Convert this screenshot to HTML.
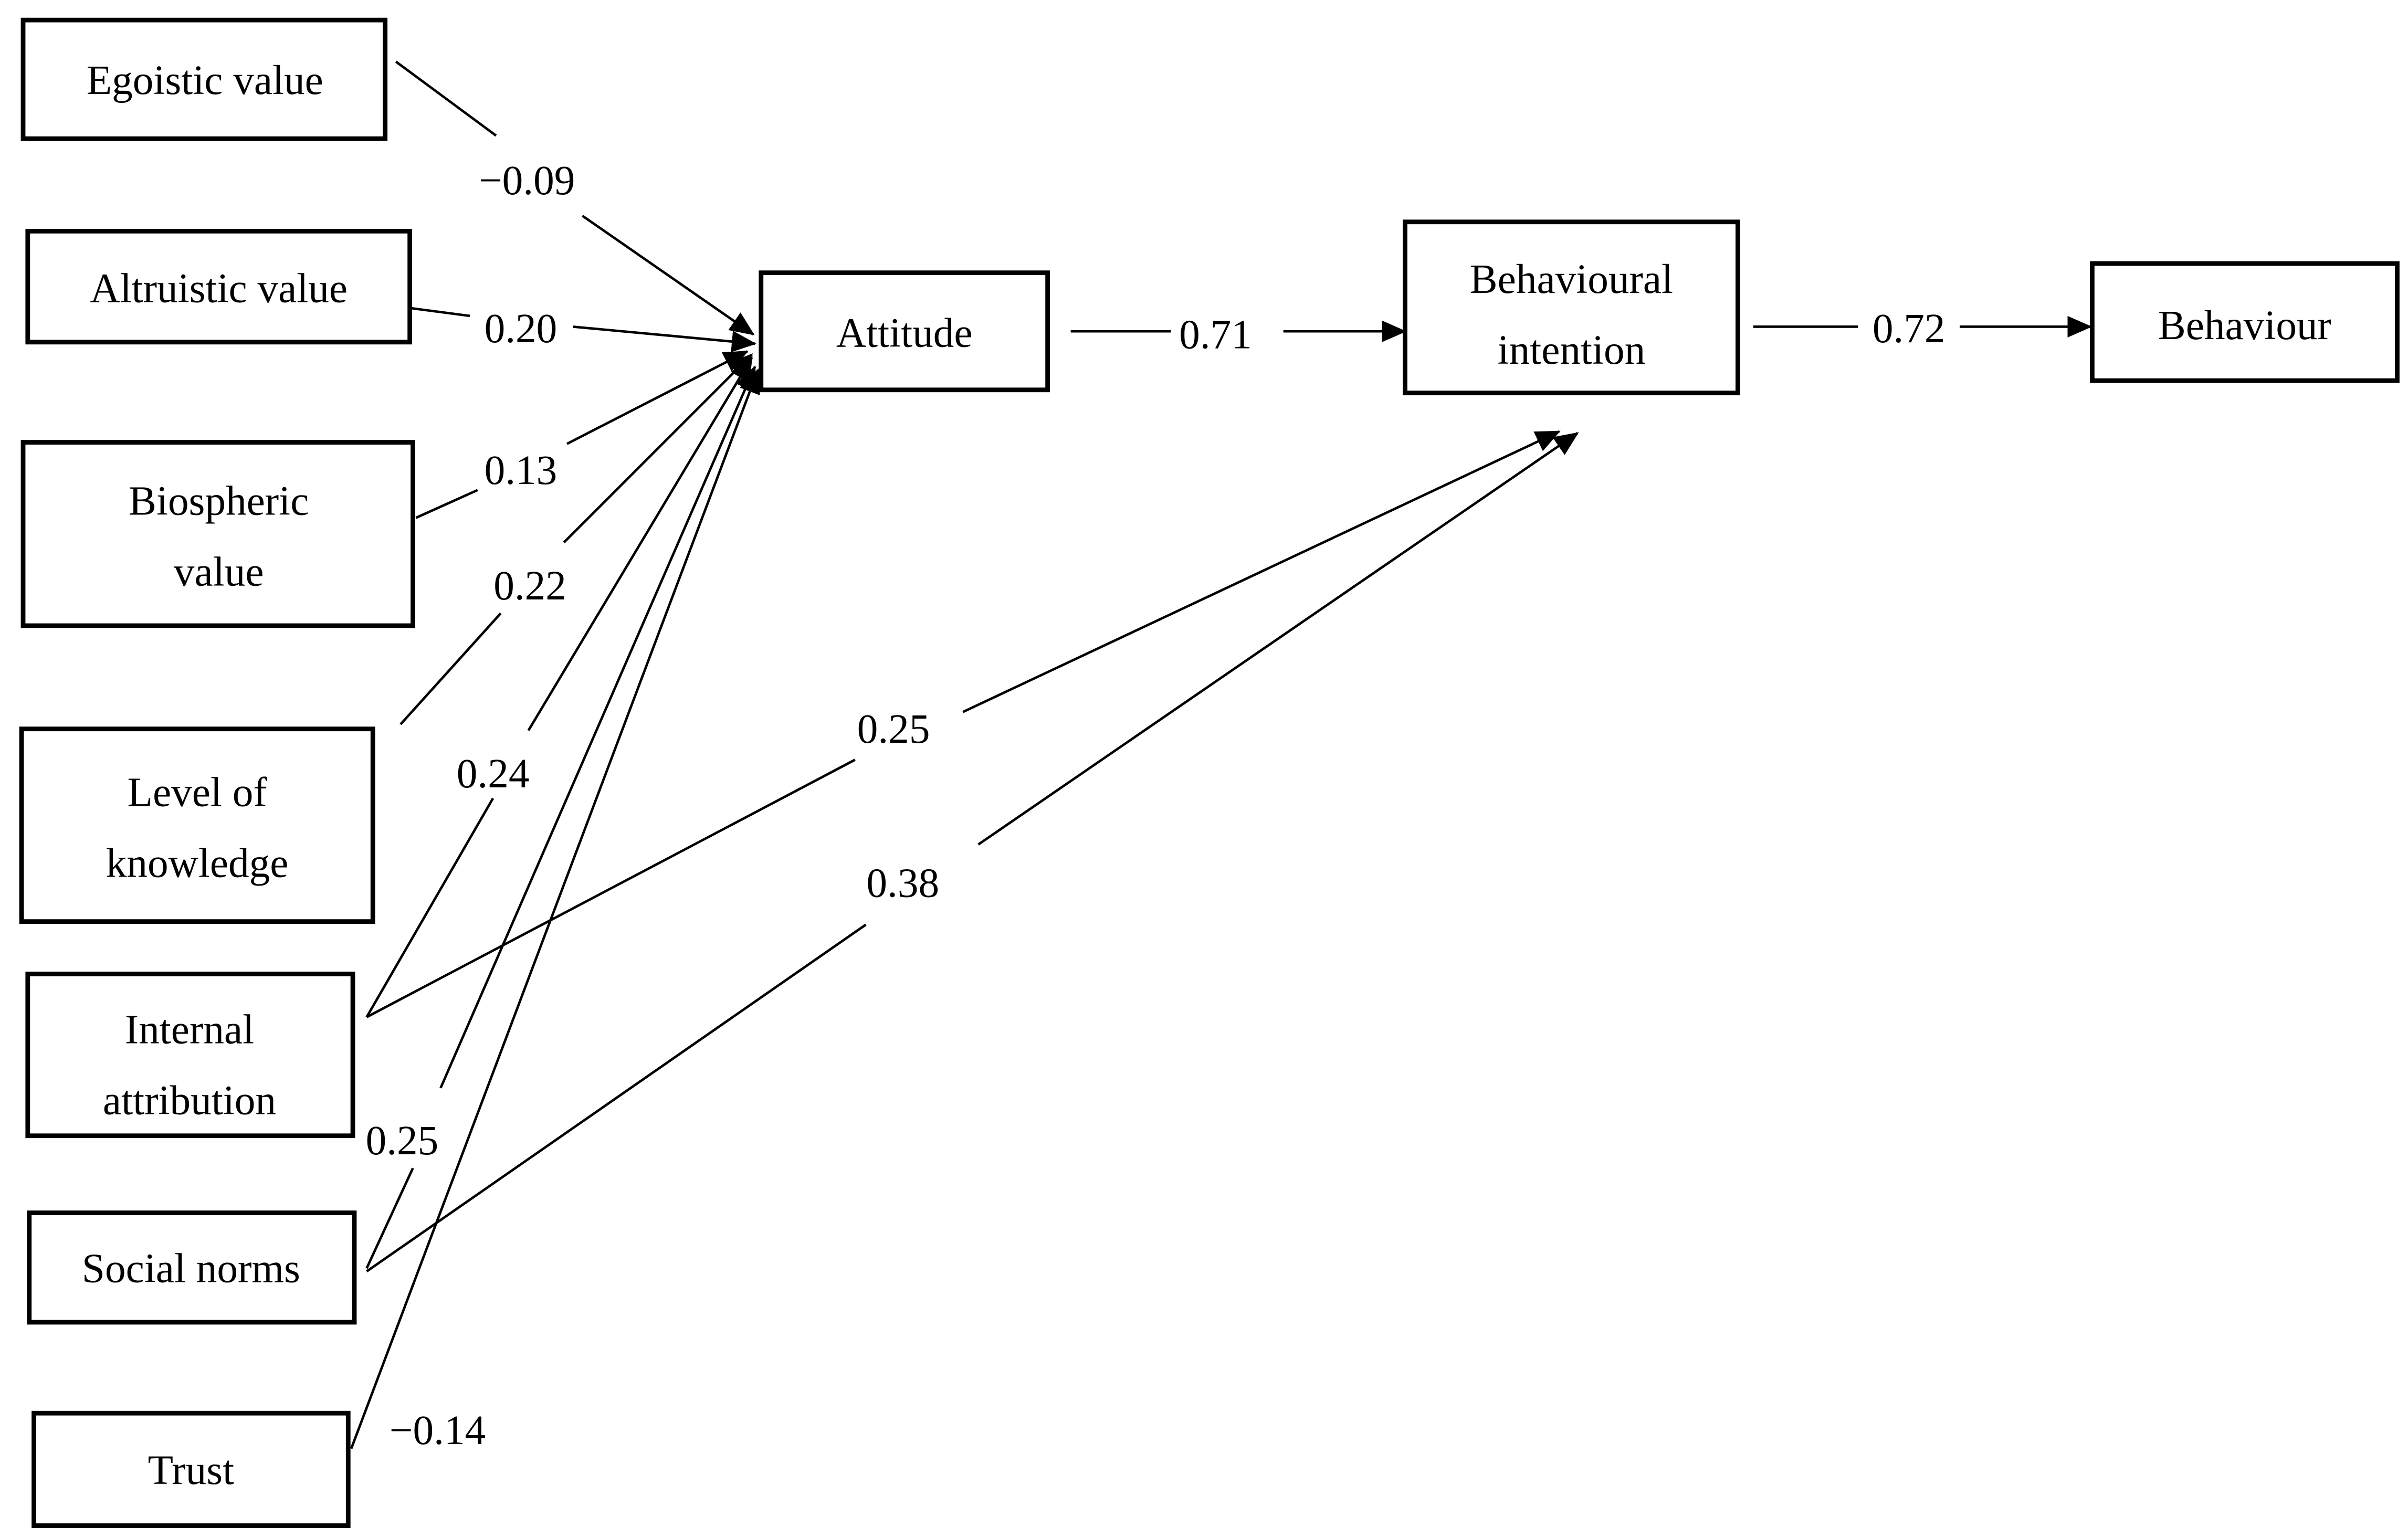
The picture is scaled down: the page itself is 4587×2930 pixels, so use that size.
<!DOCTYPE html>
<html><head><meta charset="utf-8"><style>html,body{margin:0;padding:0;background:#fff}svg{display:block}</style></head>
<body>
<svg width="4587" height="2930" viewBox="0 0 1563 998" preserveAspectRatio="none" xmlns="http://www.w3.org/2000/svg">
<defs><marker id="a" markerWidth="10" markerHeight="10" refX="9" refY="5" orient="auto" markerUnits="userSpaceOnUse" viewBox="0 0 10 10"><path d="M0,0 L10,5 L0,10 z" fill="#000" transform="scale(1)"/></marker>
<marker id="b" viewBox="0 0 16 14" refX="15" refY="7" markerWidth="16" markerHeight="14" orient="auto" markerUnits="userSpaceOnUse"><path d="M0,0 L16,7 L0,14 z" fill="#000"/></marker></defs>
<g fill="#fff" stroke="#000" stroke-width="3">
<rect x="15" y="13" width="235" height="77"/>
<rect x="18" y="150" width="248" height="72"/>
<rect x="15" y="287" width="253" height="119"/>
<rect x="14" y="473" width="228" height="125"/>
<rect x="18" y="632" width="211" height="105"/>
<rect x="19" y="787" width="211" height="71"/>
<rect x="22" y="917" width="204" height="73"/>
<rect x="494" y="177" width="186" height="76"/>
<rect x="912" y="144" width="216" height="111"/>
<rect x="1358" y="171" width="198" height="76"/>
</g>
<g stroke="#000" stroke-width="1.6" fill="none">
<line x1="257" y1="40" x2="322" y2="88"/><line x1="378" y1="140" x2="489" y2="217" marker-end="url(#b)"/>
<line x1="267" y1="200" x2="305" y2="205"/><line x1="372" y1="212" x2="490" y2="223" marker-end="url(#b)"/>
<line x1="270" y1="336" x2="310" y2="318"/><line x1="368" y1="288" x2="485" y2="228" marker-end="url(#b)"/>
<line x1="260" y1="470" x2="325" y2="398"/><line x1="366" y1="352" x2="488" y2="230" marker-end="url(#b)"/>
<line x1="238" y1="660" x2="320" y2="518"/><line x1="343" y1="474" x2="488" y2="232" marker-end="url(#b)"/>
<line x1="238" y1="660" x2="555" y2="493"/><line x1="625" y1="462" x2="1012" y2="280" marker-end="url(#b)"/>
<line x1="238" y1="823" x2="268" y2="758"/><line x1="286" y1="706" x2="490" y2="238" marker-end="url(#b)"/>
<line x1="238" y1="825" x2="562" y2="600"/><line x1="635" y1="548" x2="1024" y2="281" marker-end="url(#b)"/>
<line x1="228" y1="940" x2="492" y2="240" marker-end="url(#b)"/>
<line x1="695" y1="215" x2="760" y2="215"/><line x1="833" y1="215" x2="912" y2="215" marker-end="url(#b)"/>
<line x1="1138" y1="212" x2="1206" y2="212"/><line x1="1272" y1="212" x2="1357" y2="212" marker-end="url(#b)"/>
</g>
<g font-family="'Liberation Serif',serif" font-size="27" text-anchor="middle" fill="#000">
<text x="133" y="61">Egoistic value</text>
<text x="142" y="196">Altruistic value</text>
<text x="142" y="334">Biospheric</text><text x="142" y="380">value</text>
<text x="128" y="523">Level of</text><text x="128" y="569">knowledge</text>
<text x="123" y="677">Internal</text><text x="123" y="723">attribution</text>
<text x="124" y="832">Social norms</text>
<text x="124" y="963">Trust</text>
<text x="587" y="225">Attitude</text>
<text x="1020" y="190">Behavioural</text><text x="1020" y="236">intention</text>
<text x="1457" y="220">Behaviour</text>
<text x="342" y="126">−0.09</text>
<text x="338" y="222">0.20</text>
<text x="338" y="314">0.13</text>
<text x="344" y="389">0.22</text>
<text x="320" y="511">0.24</text>
<text x="580" y="482">0.25</text>
<text x="586" y="582">0.38</text>
<text x="261" y="749">0.25</text>
<text x="284" y="937">−0.14</text>
<text x="789" y="226">0.71</text>
<text x="1239" y="222">0.72</text>
</g>
</svg>
</body></html>
